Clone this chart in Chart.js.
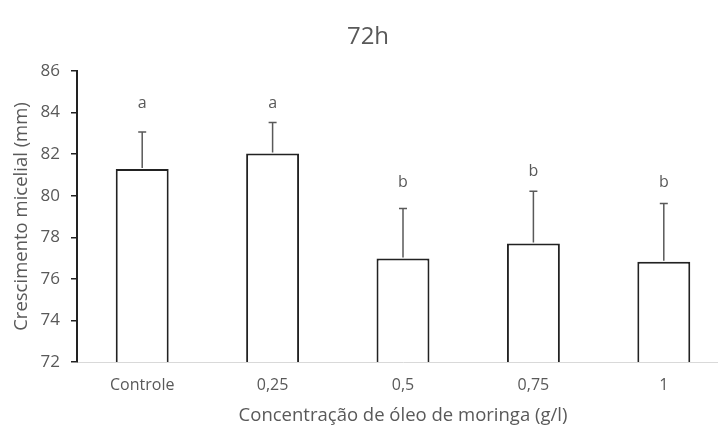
<!DOCTYPE html>
<html>
<head>
<meta charset="utf-8">
<script src="https://cdn.jsdelivr.net/npm/chart.js@4/dist/chart.umd.min.js"></script>
<style>
  html, body { margin: 0; padding: 0; background: #fff; overflow: hidden; }
  #wrap { width: 729px; height: 428px; }
</style>
</head>
<body>
<div id="wrap"><canvas id="chart" width="729" height="428"></canvas></div>
<script>
// 데이터
const categories = ['Controle', '0,25', '0,5', '0,75', '1'];
const means = [81.28, 82.03, 76.98, 77.70, 76.82];
const errors = [1.79, 1.49, 2.41, 2.52, 2.81];
const letters = ['a', 'a', 'b', 'b', 'b'];
const letterY = [84.45, 84.45, 80.65, 81.15, 80.65];
const yTicks = [72, 74, 76, 78, 80, 82, 84, 86];

const FONT = '"Open Sans", sans-serif';
const GREY = '#595959';

// 오차 막대 + 유의성 문자 + 제목
const errorBarPlugin = {
    id: 'errorBars',
    afterDatasetsDraw(chart) {
        const ctx = chart.ctx;
        const x = chart.scales.x;
        const y = chart.scales.y;
        ctx.save();
        ctx.strokeStyle = GREY;
        ctx.lineWidth = 1.5;
        means.forEach((m, i) => {
            const px = x.getPixelForValue(i);
            const top = y.getPixelForValue(m + errors[i]);
            const base = y.getPixelForValue(m);
            ctx.beginPath();
            ctx.moveTo(px, base - 1);
            ctx.lineTo(px, top);
            ctx.moveTo(px - 4, top);
            ctx.lineTo(px + 4, top);
            ctx.stroke();
        });
        ctx.fillStyle = GREY;
        ctx.font = '16px ' + FONT;
        ctx.textAlign = 'center';
        ctx.textBaseline = 'middle';
        letters.forEach((l, i) => {
            ctx.fillText(l, x.getPixelForValue(i), y.getPixelForValue(letterY[i]));
        });
        ctx.font = '24px ' + FONT;
        ctx.fillText('72h', 368, 37);
        ctx.restore();
    }
};

new Chart(document.getElementById('chart'), {
    type: 'bar',
    data: {
        labels: categories,
        datasets: [{
            data: means,
            backgroundColor: '#ffffff',
            borderColor: '#222222',
            borderWidth: 2,
            borderSkipped: 'bottom',
            categoryPercentage: 1,
            barPercentage: 0.406
        }]
    },
    options: {
        responsive: false,
        animation: false,
        layout: { padding: { top: 71, right: 0, left: 0, bottom: 0 } },
        plugins: {
            legend: { display: false },
            tooltip: { enabled: false }
        },
        scales: {
            x: {
                afterFit: (axis) => { axis.height = 66; },
                grid: { display: false, drawTicks: false },
                border: { color: '#d9d9d9', width: 1 },
                ticks: { color: GREY, font: { family: FONT, size: 16 }, padding: 14 },
                title: {
                    display: true,
                    text: 'Concentração de óleo de moringa (g/l)',
                    color: GREY,
                    font: { family: FONT, size: 18.5 },
                    padding: { top: 0, bottom: 1 }
                }
            },
            y: {
                min: 72,
                max: 86,
                afterBuildTicks: (axis) => { axis.ticks = yTicks.map(v => ({ value: v })); },
                afterFit: (axis) => { axis.width = 77; },
                grid: { display: true, drawOnChartArea: false, color: '#222222', tickLength: 6, lineWidth: 1.5 },
                border: { color: '#222222', width: 2 },
                ticks: { color: GREY, font: { family: FONT, size: 17 }, padding: 11 },
                title: {
                    display: true,
                    text: 'Crescimento micelial (mm)',
                    color: GREY,
                    font: { family: FONT, size: 18.5 },
                    padding: { top: 11, bottom: 0 }
                }
            }
        }
    },
    plugins: [errorBarPlugin]
});
</script>
</body>
</html>
